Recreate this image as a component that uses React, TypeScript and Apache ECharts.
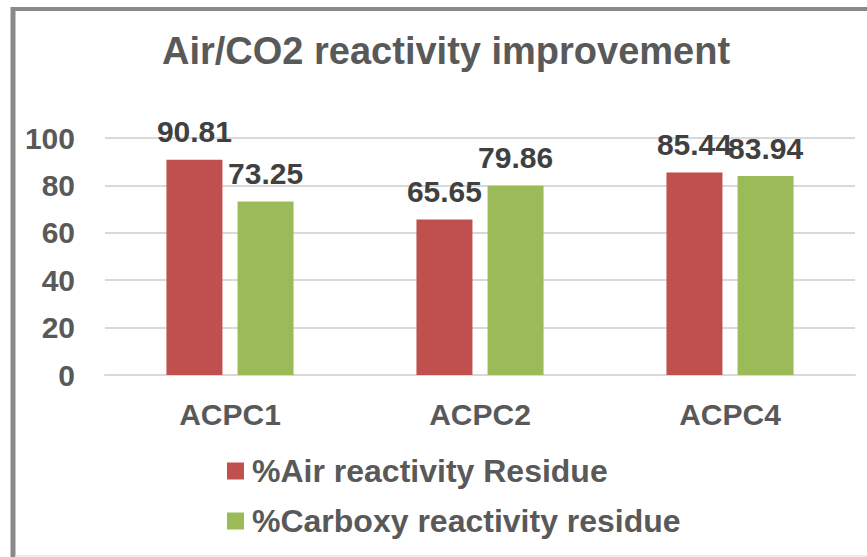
import React, { useEffect, useRef } from "react";
import * as echarts from "echarts";

const categories = ["ACPC1", "ACPC2", "ACPC4"];
const airResidue = [90.81, 65.65, 85.44];
const carboxyResidue = [73.25, 79.86, 83.94];
const seriesNames = ["%Air reactivity Residue", "%Carboxy reactivity residue"];
const titleText = "Air/CO2 reactivity improvement";

const FONT = "'Liberation Sans', Arial, sans-serif";

export default function App() {
  const ref = useRef<HTMLDivElement>(null);
  useEffect(() => {
    if (!ref.current) return;
    const chart = echarts.init(ref.current, null, { renderer: "svg" });
    const labelStyle = {
      show: true,
      position: "top" as const,
      distance: 13,
      color: "#404040",
      fontFamily: FONT,
      fontWeight: "bold" as const,
      fontSize: 30,
    };
    chart.setOption({
      animation: false,
      backgroundColor: "#ffffff",
      title: {
        text: titleText,
        left: 162,
        top: 32,
        padding: 0,
        textStyle: {
          color: "#595959",
          fontFamily: FONT,
          fontWeight: "bold",
          fontSize: 38,
        },
      },
      legend: {
        orient: "vertical",
        left: 227,
        top: 455,
        padding: 0,
        itemWidth: 17,
        itemHeight: 17,
        itemGap: 18,
        icon: "rect",
        textStyle: {
          color: "#595959",
          fontFamily: FONT,
          fontWeight: "bold",
          fontSize: 32,
          padding: [0, 0, 0, 3],
        },
        data: seriesNames,
      },
      grid: { left: 105, right: 12, top: 138, bottom: 182, containLabel: false },
      xAxis: {
        type: "category",
        data: categories,
        axisTick: { show: false },
        axisLine: { show: true, lineStyle: { color: "#d9d9d9", width: 2 } },
        axisLabel: {
          margin: 24,
          color: "#595959",
          fontFamily: FONT,
          fontWeight: "bold",
          fontSize: 30,
        },
      },
      yAxis: {
        type: "value",
        min: 0,
        max: 100,
        interval: 20,
        axisLine: { show: false },
        axisTick: { show: false },
        splitLine: { lineStyle: { color: "#d9d9d9", width: 2 } },
        axisLabel: {
          margin: 30,
          color: "#595959",
          fontFamily: FONT,
          fontWeight: "bold",
          fontSize: 30,
        },
      },
      series: [
        {
          name: seriesNames[0],
          type: "bar",
          data: airResidue,
          barWidth: 56,
          barGap: "27%",
          itemStyle: { color: "#C0504D" },
          label: labelStyle,
        },
        {
          name: seriesNames[1],
          type: "bar",
          data: carboxyResidue,
          barWidth: 56,
          barGap: "27%",
          itemStyle: { color: "#9BBB59" },
          label: labelStyle,
        },
      ],
      graphic: [
        {
          type: "line",
          shape: { x1: 11, y1: 9, x2: 867, y2: 9 },
          style: { stroke: "#898989", lineWidth: 4 },
          silent: true,
        },
        {
          type: "line",
          shape: { x1: 13, y1: 7, x2: 13, y2: 557 },
          style: { stroke: "#898989", lineWidth: 5 },
          silent: true,
        },
        {
          type: "line",
          shape: { x1: 15, y1: 556, x2: 867, y2: 556 },
          style: { stroke: "#e6e6e6", lineWidth: 1.5 },
          silent: true,
        },
      ],
    });
    return () => chart.dispose();
  }, []);
  return (
    <div
      ref={ref}
      style={{ position: "fixed", left: 0, top: 0, width: 867, height: 557, background: "#fff" }}
    />
  );
}
